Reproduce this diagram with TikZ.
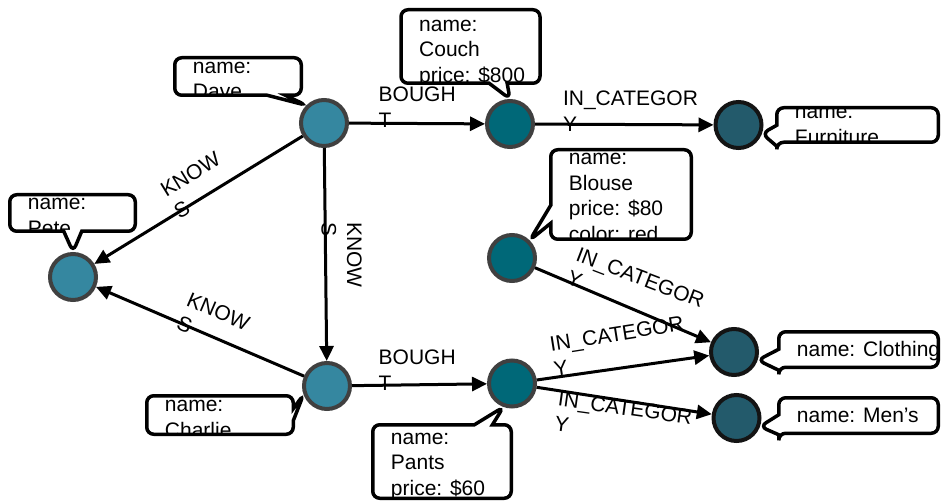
\documentclass[tikz,border=0pt]{standalone}
\usepackage{fontspec}
\setmainfont{Liberation Sans}
\usetikzlibrary{arrows.meta,shapes.callouts}

\definecolor{persblue}{HTML}{3587A0}
\definecolor{prodteal}{HTML}{006878}
\definecolor{catteal}{HTML}{235A6B}

\newcommand{\proptext}[3][0pt]{%
  \begin{scope}
    \clip[rounded corners=7pt] (#2.north west) rectangle (#2.south east);
    \node[tagtext] (#2txt) at ([xshift=18pt,yshift=#1]#2.west) {#3};
  \end{scope}}

\begin{document}
\begin{tikzpicture}[x=1pt,y=-1pt,
    person/.style ={circle, draw=black!75, fill=persblue, line width=4pt, inner sep=0pt, minimum size=46pt},
    product/.style ={person, fill=prodteal},
    category/.style ={person, draw=black!92, fill=catteal},
    tag/.style ={rectangle callout, draw, fill=white, line width=3.5pt, rounded corners=7pt,
                 inner sep=0pt, outer sep=0pt, callout pointer width=18pt},
    tagtext/.style ={anchor=west, align=left, inner sep=0pt, font=\fontsize{21}{25.5}\selectfont},
    lbl/.style ={align=left, inner sep=0pt, font=\fontsize{21}{25.5}\selectfont},
    rel/.style ={line width=3pt, -{Triangle[length=15pt,width=14pt]}}]
   \useasboundingbox (0,0) rectangle (941,502);
   \node[person] (dave) at (324,123) {};
   \node[person] (pete) at (73,277) {};
   \node[person] (charlie) at (327,386) {};
   \node[product] (couch) at (510,124) {};
   \node[product] (blouse) at (512,258) {};
   \node[product] (pants) at (512,383.5) {};
   \node[category] (furniture) at (738.5,125) {};
   \node[category] (clothing) at (734,352) {};
   \node[category] (mens) at (736.5,418) {};
   \draw[rel] (dave) -- (couch);
   \draw[rel] (couch) -- (furniture);
   \draw[rel] (dave) -- (pete);
   \draw[rel] (dave) -- (charlie);
   \draw[rel] (charlie) -- (pete);
   \draw[rel] (charlie) -- (pants);
   \draw[rel] (blouse) -- (clothing);
   \draw[rel] (pants) -- (clothing);
   \draw[rel] (pants) -- (mens);
   \node[lbl, anchor=west] (b1) at (378.5,107.3) {BOUGH\\T};
   \node[lbl, anchor=west] (b2) at (378.5,370) {BOUGH\\T};
   \node[lbl, rotate=31.5] (k1) at (197,185) {KNOW\\S};
   \node[lbl, rotate=-90] (k2) at (341.7,254.7) {KNOW\\S};
   \node[lbl, rotate=-23.2] (k3) at (213.3,323.3) {KNOW\\S};
   \node[lbl, anchor=west] (c1) at (562.8,111.3) {IN\_CATEGOR\\Y};
   \node[lbl, rotate=-21] (c2) at (635.8,289.3) {IN\_CATEGOR\\Y};
   \node[lbl, rotate=9] (c3) at (618.7,346.4) {IN\_CATEGOR\\Y};
   \node[lbl, rotate=-8] (c4) at (623.4,420.5) {IN\_CATEGOR\\Y};
   \node[tag, minimum width=126.5pt, minimum height=37.5pt, callout absolute pointer={(dave.north west)}] (davetag) at (238,76.5) {};
   \proptext[-4pt]{davetag}{name:\\Dave}
   \node[tag, minimum width=125.5pt, minimum height=36.5pt, callout absolute pointer={(pete.north)}] (petetag) at (72.5,213) {};
   \proptext[-4pt]{petetag}{name:\\Pete}
   \node[tag, minimum width=146.5pt, minimum height=38.5pt, callout pointer width=12pt, callout absolute pointer={(charlie.200)}] (charlietag) at (220,415) {};
   \proptext[-4pt]{charlietag}{name:\\Charlie}
   \node[tag, minimum width=139pt, minimum height=73.5pt, callout absolute pointer={(couch.north)}] (couchtag) at (470.5,46.5) {};
   \proptext[-7pt]{couchtag}{name:\\Couch\\price: \$800}
   \node[tag, minimum width=140.5pt, minimum height=89.5pt, callout absolute pointer={(blouse.45)}] (blousetag) at (621,194.5) {};
   \proptext[-3pt]{blousetag}{name:\\Blouse\\price: \$80\\color: red}
   \node[tag, minimum width=138.5pt, minimum height=73.5pt, callout absolute pointer={(pants.250)}] (pantstag) at (442,461.5) {};
   \proptext[-5pt]{pantstag}{name:\\Pants\\price: \$60}
   \node[tag, minimum width=161.5pt, minimum height=34.5pt, callout pointer width=21pt, callout absolute pointer={(furniture.-20)}] (furnituretag) at (857.5,125) {};
   \proptext[-1pt]{furnituretag}{name:\\Furniture}
   \node[tag, minimum width=159.5pt, minimum height=35.5pt, callout pointer width=21pt, callout absolute pointer={(clothing.-19)}] (clothingtag) at (858.5,349.5) {};
   \proptext[-1.5pt]{clothingtag}{name: Clothing}
   \node[tag, minimum width=159.5pt, minimum height=35.5pt, callout pointer width=20pt, callout absolute pointer={(mens.-20)}] (menstag) at (858.5,415.5) {};
   \proptext{menstag}{name: Men’s}
\end{tikzpicture}
\end{document}
